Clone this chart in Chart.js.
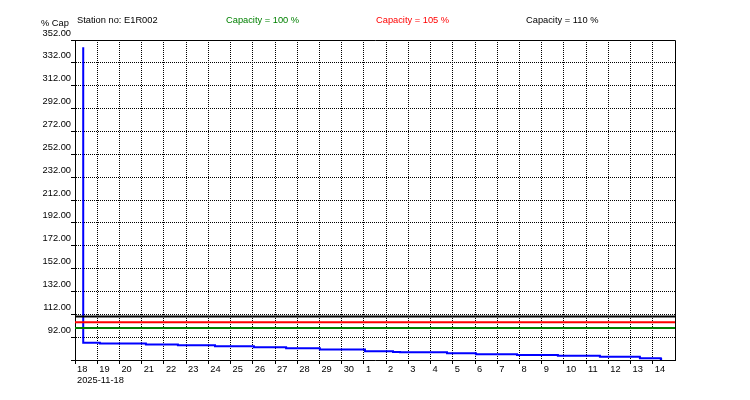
<!DOCTYPE html>
<html>
<head>
<meta charset="utf-8">
<script src="https://cdn.jsdelivr.net/npm/chart.js@4.4.1/dist/chart.umd.min.js"></script>
<style>
html,body{margin:0;padding:0;background:#fff;}
#wrap{width:750px;height:400px;}
</style>
</head>
<body>
<div id="wrap"><canvas id="c" width="750" height="400"></canvas></div>
<script>
// ---- data ----
const stationLabel = 'Station no: E1R002';
const yAxisLabel = '% Cap';
const startDateLabel = '2025-11-18';
const xTickLabels = ['18','19','20','21','22','23','24','25','26','27','28','29','30','1','2','3','4','5','6','7','8','9','10','11','12','13','14'];
const xMinDay = 0;
const xMaxDay = 27;
const yMin = 72;
const yMax = 352;
const yStep = 20;
const capacityLevels = [100, 105, 110];
const capacityLabels = ['Capacity = 100 %', 'Capacity = 105 %', 'Capacity = 110 %'];
const capacityColors = ['#008000', '#ff0000', '#000000'];
// days since 2025-11-18 00:00
const seriesDays   = [0.37, 0.37, 1.12, 3.19, 4.63, 6.30, 8.05, 9.50, 11.02, 13.05, 14.31, 14.62, 16.74, 18.04, 19.89, 21.73, 23.62, 25.42, 26.36, 26.42];
const seriesValues = [345.6, 87.1, 86.4, 85.6, 84.9, 84.0, 83.2, 82.3, 81.2, 79.7, 79.1, 78.8, 77.9, 77.1, 76.4, 75.7, 74.8, 73.6, 72.9, 72.9];

// ---- chart ----
const FONT_FAMILY = '"Liberation Sans", Arial, sans-serif';
const FONT_SIZE = 9.3;
const tickFont = {family: FONT_FAMILY, size: FONT_SIZE};

const datasets = capacityLevels.map((lvl, i) => ({
  label: capacityLabels[i],
  data: [{x: xMinDay, y: lvl}, {x: xMaxDay, y: lvl}],
  borderColor: capacityColors[i],
  borderWidth: 2,
  pointRadius: 0,
  clip: 0,
  fill: false
}));
datasets.push({
  label: stationLabel,
  data: seriesDays.map((d, i) => ({x: d, y: seriesValues[i]})),
  borderColor: '#0000ff',
  borderWidth: 2,
  pointRadius: 0,
  stepped: 'before',
  clip: 0,
  fill: false
});

const framePlugin = {
  id: 'frame',
  afterDraw(chart) {
    const {ctx, chartArea: a} = chart;
    ctx.save();
    ctx.strokeStyle = '#000';
    ctx.lineWidth = 1;
    ctx.beginPath();
    ctx.moveTo(Math.round(a.left) + 0.5, Math.round(a.top) + 0.5);
    ctx.lineTo(Math.round(a.right) + 0.5, Math.round(a.top) + 0.5);
    ctx.lineTo(Math.round(a.right) + 0.5, Math.round(a.bottom) + 0.5);
    ctx.stroke();
    // header texts
    ctx.font = FONT_SIZE + 'px ' + FONT_FAMILY;
    ctx.textBaseline = 'middle';
    ctx.textAlign = 'left';
    ctx.fillStyle = '#000';
    ctx.fillText(yAxisLabel, 41, 23);
    ctx.fillText(stationLabel, 77, 20);
    ctx.fillText(startDateLabel, Math.round(a.left) + 2, 380);
    capacityLabels.forEach((t, i) => {
      ctx.fillStyle = capacityColors[i];
      ctx.fillText(t, 226 + i * 150, 20);
    });
    ctx.restore();
  }
};

new Chart(document.getElementById('c'), {
  type: 'line',
  data: {datasets},
  options: {
    responsive: false,
    animation: false,
    devicePixelRatio: 1,
    layout: {padding: {left: 0, top: 40, right: 75, bottom: 0}},
    plugins: {legend: {display: false}, tooltip: {enabled: false}},
    scales: {
      x: {
        type: 'linear',
        min: xMinDay,
        max: xMaxDay,
        afterBuildTicks: s => { s.ticks = xTickLabels.map((_, i) => ({value: i})); },
        afterFit: s => { s.height = 40; },
        grid: {color: '#000', lineWidth: 1, tickLength: 4, tickColor: '#000'},
        border: {display: true, color: '#000', width: 1, dash: [1, 1]},
        ticks: {
          autoSkip: false, maxRotation: 0, minRotation: 0,
          align: 'start', labelOffset: 2, padding: 0,
          color: '#000', font: tickFont,
          callback: (v, i) => xTickLabels[i]
        }
      },
      y: {
        type: 'linear',
        min: yMin,
        max: yMax,
        afterFit: s => { s.width = 75; },
        grid: {color: '#000', lineWidth: 1, tickLength: 4, tickColor: '#000'},
        border: {display: true, color: '#000', width: 1, dash: [1, 1]},
        ticks: {
          stepSize: yStep,
          labelOffset: -7,
          padding: 0,
          color: '#000', font: tickFont,
          callback: v => (v === yMin ? '' : Number(v).toFixed(2))
        }
      }
    }
  },
  plugins: [framePlugin]
});
</script>
</body>
</html>
